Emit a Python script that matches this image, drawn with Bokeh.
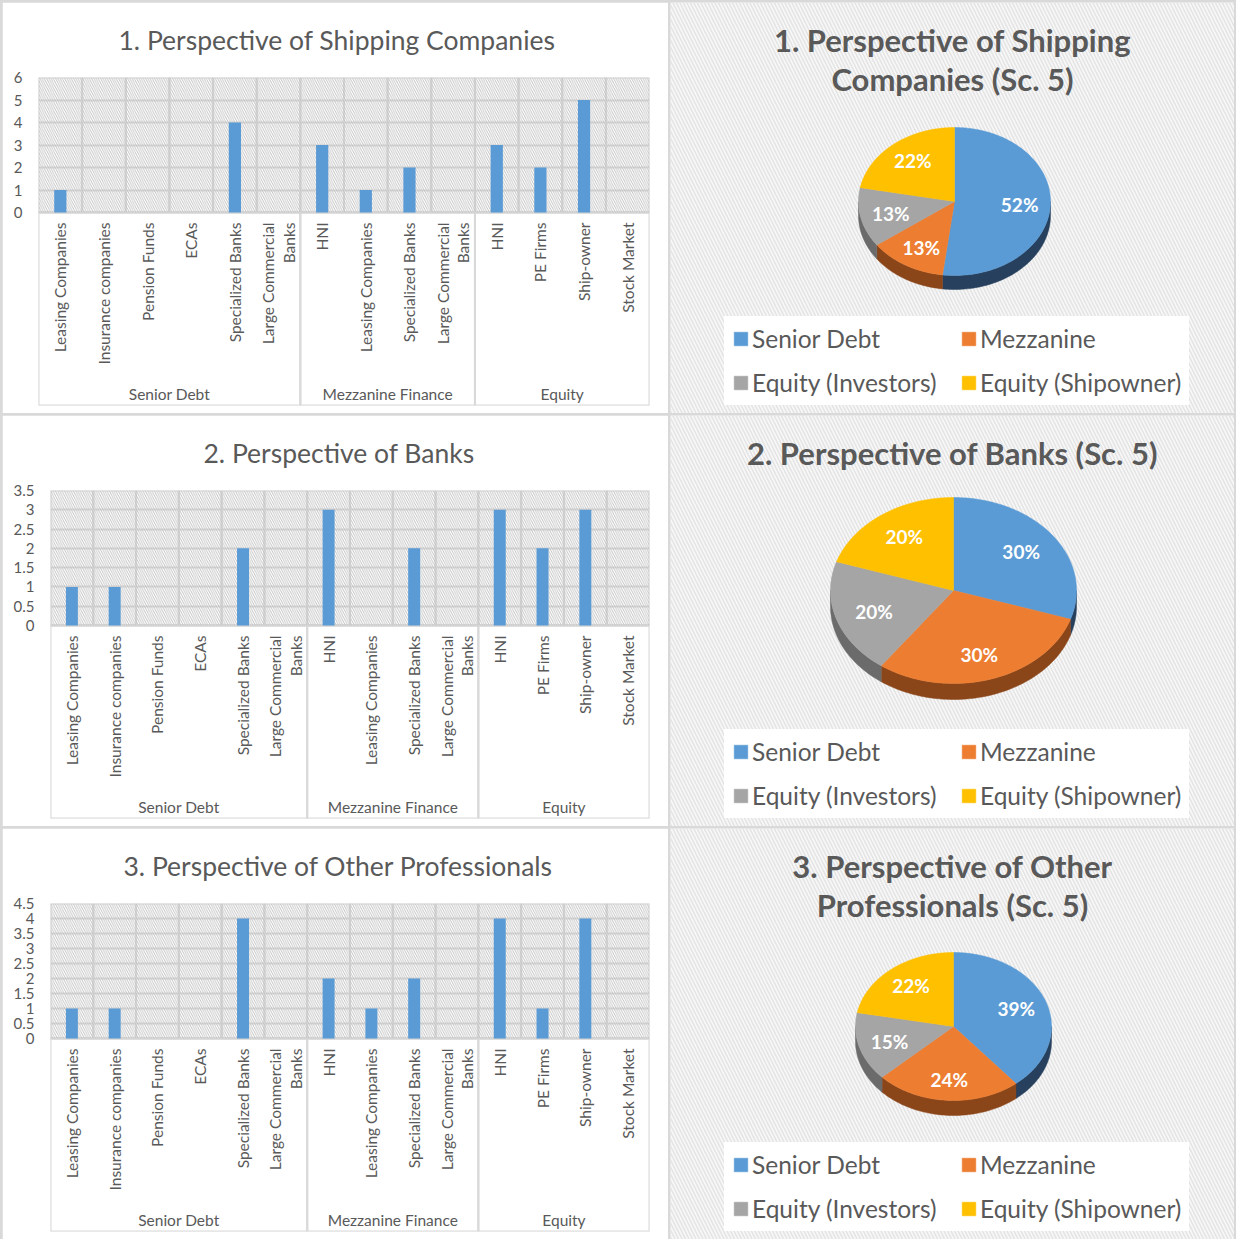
import numpy as np
from bokeh.plotting import figure
from bokeh.models import (FactorRange, FixedTicker, BoxAnnotation, Legend, LegendItem,
                          Range1d, NumeralTickFormatter)
from bokeh.layouts import row, column
from bokeh.embed import file_html
from bokeh.resources import INLINE
from bokeh.core.properties import value

# ---------------- data ----------------
groups = ["Senior Debt", "Mezzanine Finance", "Equity"]
senior_cats = ["Leasing Companies", "Insurance companies", "Pension Funds", "ECAs",
               "Specialized Banks", "Large Commercial\nBanks"]
mezz_cats = ["HNI", "Leasing Companies", "Specialized Banks", "Large Commercial\nBanks"]
equity_cats = ["HNI", "PE Firms", "Ship-owner", "Stock Market"]

shipping_values = [1, 0, 0, 0, 4, 0, 3, 1, 2, 0, 3, 2, 5, 0]
banks_values = [1, 1, 0, 0, 2, 0, 3, 0, 2, 0, 3, 2, 3, 0]
other_values = [1, 1, 0, 0, 4, 0, 2, 1, 2, 0, 4, 1, 4, 0]

bar_titles = ["1. Perspective of Shipping Companies",
              "2. Perspective of Banks",
              "3. Perspective of Other Professionals"]
y_max = [6, 3.5, 4.5]
y_step = [1, 0.5, 0.5]

pie_labels = ["Senior Debt", "Mezzanine", "Equity (Investors)", "Equity (Shipowner)"]
pie_shipping = [52, 13, 13, 22]
pie_banks = [30, 30, 20, 20]
pie_other = [39, 24, 15, 22]
pie_titles = ["1. Perspective of Shipping\nCompanies (Sc. 5)",
              "2. Perspective of Banks (Sc. 5)",
              "3. Perspective of Other\nProfessionals (Sc. 5)"]

# ---------------- style ----------------
FONT = "Lato"
TXT = "#595959"
GRID = "#d9d9d9"
BAR = "#5B9BD5"
pie_colors = ["#5B9BD5", "#ED7D31", "#A5A5A5", "#FFC000"]
side_colors = ["#26405e", "#8a4519", "#6b6b6b", "#a07b00"]

LEFT_W, RIGHT_W, PANEL_H = 666, 564, 411


def bar_panel(title, vals, ymax, step, border_left, title_left):
    cats = [senior_cats, mezz_cats, equity_cats]
    factors = [(g, c) for g, cs in zip(groups, cats) for c in cs]
    top_b, bot_b = 75, 8
    frame_h = PANEL_H - top_b - bot_b
    plot_h = 135
    ymin = -ymax * (frame_h - plot_h) / plot_h
    p = figure(width=LEFT_W, height=PANEL_H,
               x_range=FactorRange(*factors, group_padding=0, range_padding=0, factor_padding=0),
               y_range=Range1d(ymin, ymax),
               output_backend="svg", toolbar_location=None, frame_align=False,
               min_border_left=border_left, min_border_right=19,
               min_border_top=top_b, min_border_bottom=bot_b, title=title)
    p.title.align = "left"
    p.title.vertical_align = "top"
    p.title.offset = title_left - border_left
    p.title.standoff = 40
    p.title.text_font = FONT
    p.title.text_font_size = "26.5px"
    p.title.text_font_style = "normal"
    p.title.text_color = TXT
    p.background_fill_color = "white"
    p.border_fill_color = "white"
    p.outline_line_color = None
    p.xaxis.visible = False
    p.xgrid.visible = False

    ticks = list(np.arange(0, ymax + step / 2, step))
    p.yaxis.ticker = FixedTicker(ticks=ticks)
    p.yaxis.formatter = NumeralTickFormatter(format="0.[0]")
    p.yaxis.axis_line_color = None
    p.yaxis.major_tick_line_color = None
    p.yaxis.minor_tick_line_color = None
    p.yaxis.major_label_text_font = FONT
    p.yaxis.major_label_text_font_size = "15px"
    p.yaxis.major_label_text_color = TXT
    p.yaxis.major_label_standoff = 10
    p.ygrid.grid_line_color = GRID
    p.ygrid.grid_line_width = 2

    # hatched plot area
    p.add_layout(BoxAnnotation(bottom=0, top=ymax, fill_alpha=0, line_color=None,
                               hatch_pattern="\\", hatch_color="#bdbdbd",
                               hatch_scale=4.5, hatch_weight=0.9, level="underlay"))
    # cell boundaries
    p.vbar(x=factors, width=1, bottom=0, top=ymax, fill_color=None,
           line_color=GRID, line_width=2, level="underlay")
    # group separators through label area
    p.vbar(x=groups, width=[len(c) for c in cats], bottom=ymin * 1.1, top=0,
           fill_color=None, line_color=GRID, line_width=2, level="underlay")
    # bars
    p.vbar(x=factors, top=vals, width=0.28, fill_color=BAR, line_color=None)
    # category labels
    p.text(x=factors, y=[0] * len(factors), text=[f[1] for f in factors],
           angle=np.pi / 2, text_align="right", text_baseline="middle",
           y_offset=10, text_font=value(FONT), text_font_size="15.5px",
           text_color=TXT, text_line_height=1.15)
    # group labels
    p.text(x=groups, y=[ymin] * len(groups), text=groups, y_offset=-3,
           text_align="center", text_baseline="bottom", text_font=value(FONT),
           text_font_size="15.5px", text_color=TXT)
    return p


def pie_panel(title, vals, geom):
    W, H = RIGHT_W, PANEL_H
    p = figure(width=W, height=H, x_range=Range1d(0, W), y_range=Range1d(0, H),
               x_axis_location=None, y_axis_location=None, min_border=0,
               min_border_left=0, min_border_right=0, min_border_top=0, min_border_bottom=0,
               frame_align=False, output_backend="svg", toolbar_location=None)
    p.grid.visible = False
    p.outline_line_color = None
    p.background_fill_color = "#f7f7f7"
    p.border_fill_color = "#f7f7f7"
    p.add_layout(BoxAnnotation(fill_alpha=0, line_color=None, hatch_pattern="\\",
                               hatch_color="#e4e4e4", hatch_scale=7, hatch_weight=1.5,
                               level="underlay"))

    cx, cy, rx, ry, dep = geom
    tot = float(sum(vals))
    bounds = np.concatenate([[0], np.cumsum(vals) / tot]) * 2 * np.pi

    # side walls
    for i in range(len(vals)):
        a, b = bounds[i], bounds[i + 1]
        lo, hi = max(a, np.pi / 2), min(b, 3 * np.pi / 2)
        if hi > lo:
            t = np.linspace(lo, hi, 60)
            xs = cx + rx * np.sin(t)
            ys = cy + ry * np.cos(t)
            px = np.concatenate([xs, xs[::-1]])
            py = np.concatenate([ys, (ys - dep)[::-1]])
            p.patch(px, py, fill_color=side_colors[i], line_color=side_colors[i], line_width=0.5)

    # top faces
    items = []
    for i in range(len(vals)):
        a, b = bounds[i], bounds[i + 1]
        t = np.linspace(a, b, 100)
        px = np.concatenate([[cx], cx + rx * np.sin(t)])
        py = np.concatenate([[cy], cy + ry * np.cos(t)])
        r = p.patch(px, py, fill_color=pie_colors[i], line_color=pie_colors[i], line_width=0.5)
        items.append(LegendItem(label=pie_labels[i], renderers=[r]))

    # percentage labels
    mids = (bounds[:-1] + bounds[1:]) / 2
    lx = cx + 0.68 * rx * np.sin(mids)
    ly = cy + 0.72 * ry * np.cos(mids)
    p.text(x=lx, y=ly, text=[f"{v}%" for v in vals], text_align="center",
           text_baseline="middle", text_font=value(FONT), text_font_style="bold",
           text_font_size="19px", text_color="white")

    # title
    p.text(x=[W / 2], y=[H - 18], text=[title], text_align="center", text_baseline="top",
           text_font=value(FONT), text_font_style="bold", text_font_size="31px",
           text_color=TXT, text_line_height=1.05)

    leg = Legend(items=items, ncols=2, location=(54, 8), orientation="horizontal",
                 background_fill_color="white", background_fill_alpha=1,
                 border_line_color="white", border_line_width=1,
                 label_text_font=FONT,
                 label_text_font_size="24.5px", label_text_color=TXT,
                 glyph_width=17, glyph_height=17, label_standoff=3,
                 label_width=193, spacing=15, padding=7, margin=0)
    p.add_layout(leg)
    return p


pie_geoms = [(284, 212, 96, 74, 14), (283, 236, 123, 93, 16), (283, 213, 98, 74, 15)]

b1 = bar_panel(bar_titles[0], shipping_values, y_max[0], y_step[0], 36, 116)
b2 = bar_panel(bar_titles[1], banks_values, y_max[1], y_step[1], 48, 201)
b3 = bar_panel(bar_titles[2], other_values, y_max[2], y_step[2], 48, 121)
p1 = pie_panel(pie_titles[0], pie_shipping, pie_geoms[0])
p2 = pie_panel(pie_titles[1], pie_banks, pie_geoms[1])
p3 = pie_panel(pie_titles[2], pie_other, pie_geoms[2])

layout = column(row(b1, p1, spacing=2), row(b2, p2, spacing=2), row(b3, p3, spacing=2),
                spacing=2, styles={"background-color": "#d9d9d9", "padding": "2px"})

open("out.html", "w").write(file_html(layout, INLINE))
